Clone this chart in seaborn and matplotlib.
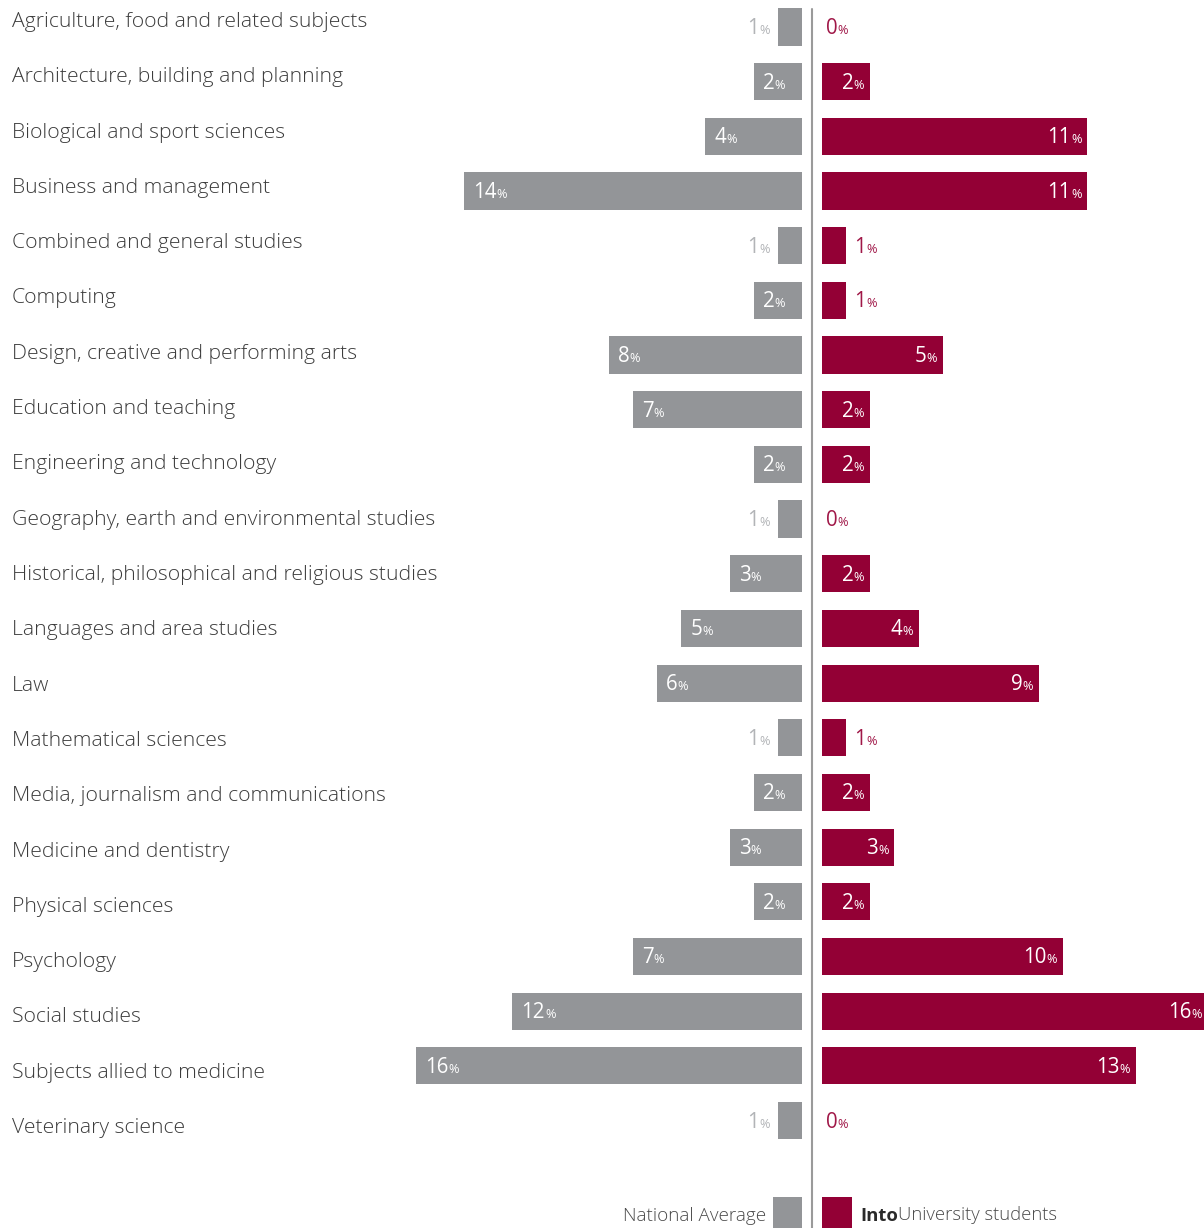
import matplotlib
matplotlib.use("Agg")
import matplotlib.pyplot as plt
import seaborn as sns
import pandas as pd
from matplotlib.lines import Line2D
from matplotlib.patches import Rectangle

categories = [
    "Agriculture, food and related subjects",
    "Architecture, building and planning",
    "Biological and sport sciences",
    "Business and management",
    "Combined and general studies",
    "Computing",
    "Design, creative and performing arts",
    "Education and teaching",
    "Engineering and technology",
    "Geography, earth and environmental studies",
    "Historical, philosophical and religious studies",
    "Languages and area studies",
    "Law",
    "Mathematical sciences",
    "Media, journalism and communications",
    "Medicine and dentistry",
    "Physical sciences",
    "Psychology",
    "Social studies",
    "Subjects allied to medicine",
    "Veterinary science",
]
national = [1, 2, 4, 14, 1, 2, 8, 7, 2, 1, 3, 5, 6, 1, 2, 3, 2, 7, 12, 16, 1]
into_uni = [0, 2, 11, 11, 1, 1, 5, 2, 2, 0, 2, 4, 9, 1, 2, 3, 2, 10, 16, 13, 0]
legend_left = "National Average"
legend_right_bold = "Into"
legend_right_rest = "University students"

df = pd.DataFrame({"category": categories, "national": national, "into": into_uni})

sns.set_theme(style="white")
plt.rcParams["font.family"] = ["Open Sans", "DejaVu Sans"]

W, H = 1204, 1228
fig = plt.figure(figsize=(W / 100, H / 100), dpi=100)
fig.patch.set_facecolor("white")

PX = 24.13          # pixels per percent
GRAY = "#939598"
RED = "#930035"
GRAY_OUT = "#b2b4b7"
RED_OUT = "#a01848"
LABEL_C = "#3c3c3c"
NUM_FS = 14.8
PCT_FS = 9.2

row0, step = 27.0, 54.675
ylim_bars = ((H - row0) / step, -row0 / step)

axL = fig.add_axes([0, 0, 802 / W, 1])
axR = fig.add_axes([822 / W, 0, (W - 822) / W, 1])

sns.barplot(data=df, x="national", y="category", ax=axL, color=GRAY,
            saturation=1, width=0.68, orient="h", errorbar=None)
sns.barplot(data=df, x="into", y="category", ax=axR, color=RED,
            saturation=1, width=0.68, orient="h", errorbar=None)

for ax in (axL, axR):
    ax.set_ylim(*ylim_bars)
    ax.axis("off")
    for p in ax.patches:
        p.set_linewidth(0)
axL.set_xlim(802 / PX, 0)
axR.set_xlim(0, (W - 822) / PX)

BASE_OFF = -7   # pixels: baseline below bar centre


def label_left_anchor(ax, x, y, num, color, dx):
    t = ax.annotate(str(num), xy=(x, y), xytext=(dx, BASE_OFF),
                    textcoords="offset pixels", ha="left", va="baseline",
                    fontsize=NUM_FS, color=color, annotation_clip=False)
    ax.annotate("%", xy=(1, 0), xycoords=t, xytext=(0, 5),
                textcoords="offset pixels", ha="left", va="baseline",
                fontsize=PCT_FS, color=color, annotation_clip=False)


def label_right_anchor(ax, x, y, num, color, dx):
    p = ax.annotate("%", xy=(x, y), xytext=(dx, BASE_OFF),
                    textcoords="offset pixels", ha="right", va="baseline",
                    fontsize=PCT_FS, color=color, annotation_clip=False)
    ax.annotate(str(num), xy=(0, 0), xycoords=p, xytext=(0, 3),
                textcoords="offset pixels", ha="right", va="baseline",
                fontsize=NUM_FS, color=color, annotation_clip=False)


for i, v in enumerate(national):
    if v >= 2:
        label_left_anchor(axL, v, i, v, "white", 9)
    else:
        label_right_anchor(axL, v, i, v, GRAY_OUT, -8)

for i, v in enumerate(into_uni):
    if v >= 2:
        label_right_anchor(axR, v, i, v, "white", -6)
    else:
        label_left_anchor(axR, v, i, v, RED_OUT, 4 if v == 0 else 8)

# category labels on an overlay axes
axT = fig.add_axes([0, 0, 1, 1], facecolor="none")
axT.set_xlim(0, W)
lrow0, lstep = 27.0, 55.3
axT.set_ylim((H - lrow0) / lstep, -lrow0 / lstep)
axT.axis("off")
for i, c in enumerate(categories):
    axT.text(12, i, c, ha="left", va="baseline", fontsize=15.2,
             fontweight="light", color=LABEL_C)

# centre line
fig.add_artist(Line2D([812 / W, 812 / W], [1 - 9 / H, 0],
                      transform=fig.transFigure, color="#9a9a9a", lw=1.5))

# legend
fig.add_artist(Rectangle((773 / W, 0), 29 / W, 31 / H, transform=fig.transFigure,
                         facecolor=GRAY, edgecolor="none"))
fig.add_artist(Rectangle((822 / W, 0), 30 / W, 31 / H, transform=fig.transFigure,
                         facecolor=RED, edgecolor="none"))
fig.text(766 / W, 1 - 1221 / H, legend_left, ha="right", va="baseline",
         fontsize=13.6, fontweight="light", color="#4a4a4a")
tb = fig.text(860 / W, 1 - 1221 / H, legend_right_bold, ha="left", va="baseline",
              fontsize=13.3, fontweight="bold", color="#2a2a2a")
axT.annotate(legend_right_rest, xy=(1, 0), xycoords=tb, xytext=(0, 1),
             textcoords="offset pixels", ha="left", va="bottom",
             fontsize=13.3, fontweight="light", color="#4a4a4a",
             annotation_clip=False)

fig.savefig("out.png", dpi=100, facecolor="white")
